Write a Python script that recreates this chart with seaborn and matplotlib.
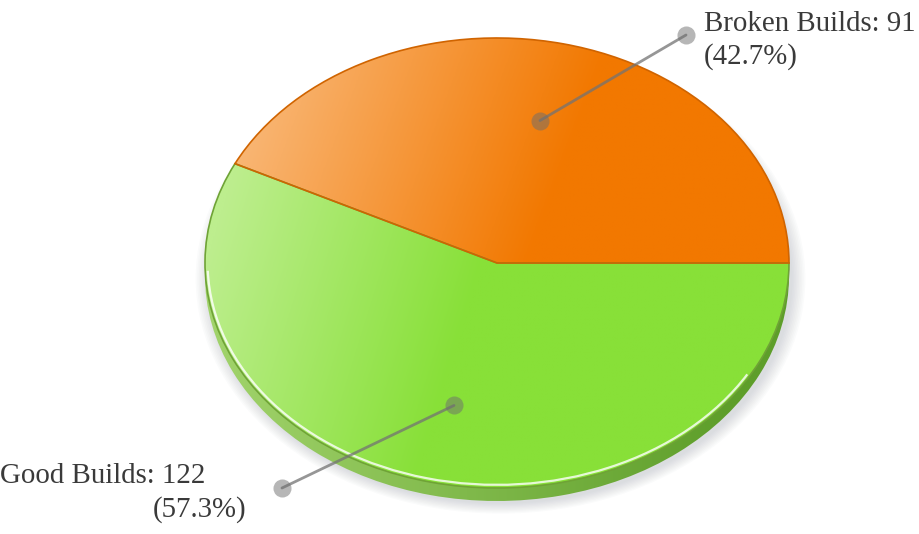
import numpy as np
import matplotlib
matplotlib.use("Agg")
import matplotlib.pyplot as plt
from matplotlib.patches import Ellipse, Arc
import seaborn as sns

labels = ["Broken Builds", "Good Builds"]
counts = [91, 122]
light_colors = ["#F9B776", "#BDEE8E"]
dark_colors = ["#F27800", "#88E038"]
side_light = ["#E08A30", "#A2D46C"]
side_dark = ["#C86400", "#5E9E2A"]
edge_colors = ["#D06400", "#6FA336"]

sns.set_theme(style="white")
plt.rcParams["font.family"] = ["Liberation Serif", "DejaVu Serif"]

W, H = 919, 534
cx, cy, rx, ry = 497, 263, 292, 225  # ellipse in pixels


def px(x, y):
    # pixel -> unit-circle coords
    return (x - cx) / rx, (cy - y) / ry


xlim = (px(0, 0)[0], px(W, 0)[0])
ylim = (px(0, H)[1], px(0, 0)[1])
depth = 13 / ry

fig = plt.figure(figsize=(W / 100, H / 100), dpi=100)
ax = fig.add_axes([0, 0, 1, 1])

gx, gy = np.meshgrid(np.linspace(xlim[0], xlim[1], 700),
                     np.linspace(ylim[0], ylim[1], 420))


def fill_gradient(wedge, light, dark, t, z):
    cmap = sns.blend_palette([light, dark], as_cmap=True)
    im = ax.imshow(cmap(np.clip(t, 0, 1)), extent=(*xlim, *ylim),
                   origin="lower", aspect="auto", zorder=z, interpolation="bilinear")
    im.set_clip_path(wedge)


# soft shadow
for k in range(9):
    ax.add_patch(Ellipse((0.012, -depth - 0.012), 2 + 0.011 * k, 2 + 0.011 * k,
                         color="#8a8f9c", alpha=0.035, lw=0, zorder=0))

# side of the disc
side, _ = ax.pie(counts, startangle=0, counterclock=True, center=(0, -depth),
                 radius=1, wedgeprops=dict(linewidth=0))
t_side = (gx + 1.0) / 1.8
for i, w in enumerate(side):
    w.set_facecolor("none")
    w.set_zorder(1.5)
    fill_gradient(w, side_light[i], side_dark[i], t_side, 1)

# top of the disc
top, _ = ax.pie(counts, startangle=0, counterclock=True, radius=1,
                wedgeprops=dict(linewidth=1.2))
t_top = [(gx + 0.9) / 1.15 + (0.5 - gy) * 0.25,
         (gx + 1.0) / 0.95 - gy * 0.25]
for i, w in enumerate(top):
    w.set_facecolor("none")
    w.set_edgecolor(edge_colors[i])
    w.set_zorder(3 - i * 0.1)
    fill_gradient(w, light_colors[i], dark_colors[i], t_top[i], 2)

ax.add_patch(Arc((0, 0), 1.982, 1.972, theta1=182, theta2=330,
                 color="white", lw=1.6, alpha=0.8, zorder=3.5))

# leader lines and labels
total = sum(counts)
label_xy = [px(686, 35), px(282, 488)]
for i, w in enumerate(top):
    mid = np.deg2rad((w.theta1 + w.theta2) / 2)
    inner = (0.65 * np.cos(mid), 0.65 * np.sin(mid))
    ox, oy = label_xy[i]
    ax.plot([inner[0], ox], [inner[1], oy], color="#737373", lw=2, alpha=0.75,
            zorder=4, solid_capstyle="round")
    ax.plot([inner[0], ox], [inner[1], oy], ls="none", marker="o", ms=13,
            mec="none", mfc="#6e6e6e", alpha=0.5, zorder=4)

tc = "#3a3a3a"
fs = 20.8
bx, by1 = px(704, 31)
_, by2 = px(704, 64)
ax.text(bx, by1, f"{labels[0]}: {counts[0]}", ha="left", va="baseline",
        fontsize=fs, color=tc, zorder=5)
ax.text(bx, by2, f"({100 * counts[0] / total:.1f}%)", ha="left", va="baseline",
        fontsize=fs, color=tc, zorder=5)
gx1, gy1 = px(0, 483)
gx2, gy2 = px(246, 517)
ax.text(gx1, gy1, f"{labels[1]}: {counts[1]}", ha="left", va="baseline",
        fontsize=fs, color=tc, zorder=5)
ax.text(gx2, gy2, f"({100 * counts[1] / total:.1f}%)", ha="right", va="baseline",
        fontsize=fs, color=tc, zorder=5)

ax.set_xlim(*xlim)
ax.set_ylim(*ylim)
ax.set_aspect("auto")
ax.axis("off")

fig.savefig("out.png", dpi=100)
